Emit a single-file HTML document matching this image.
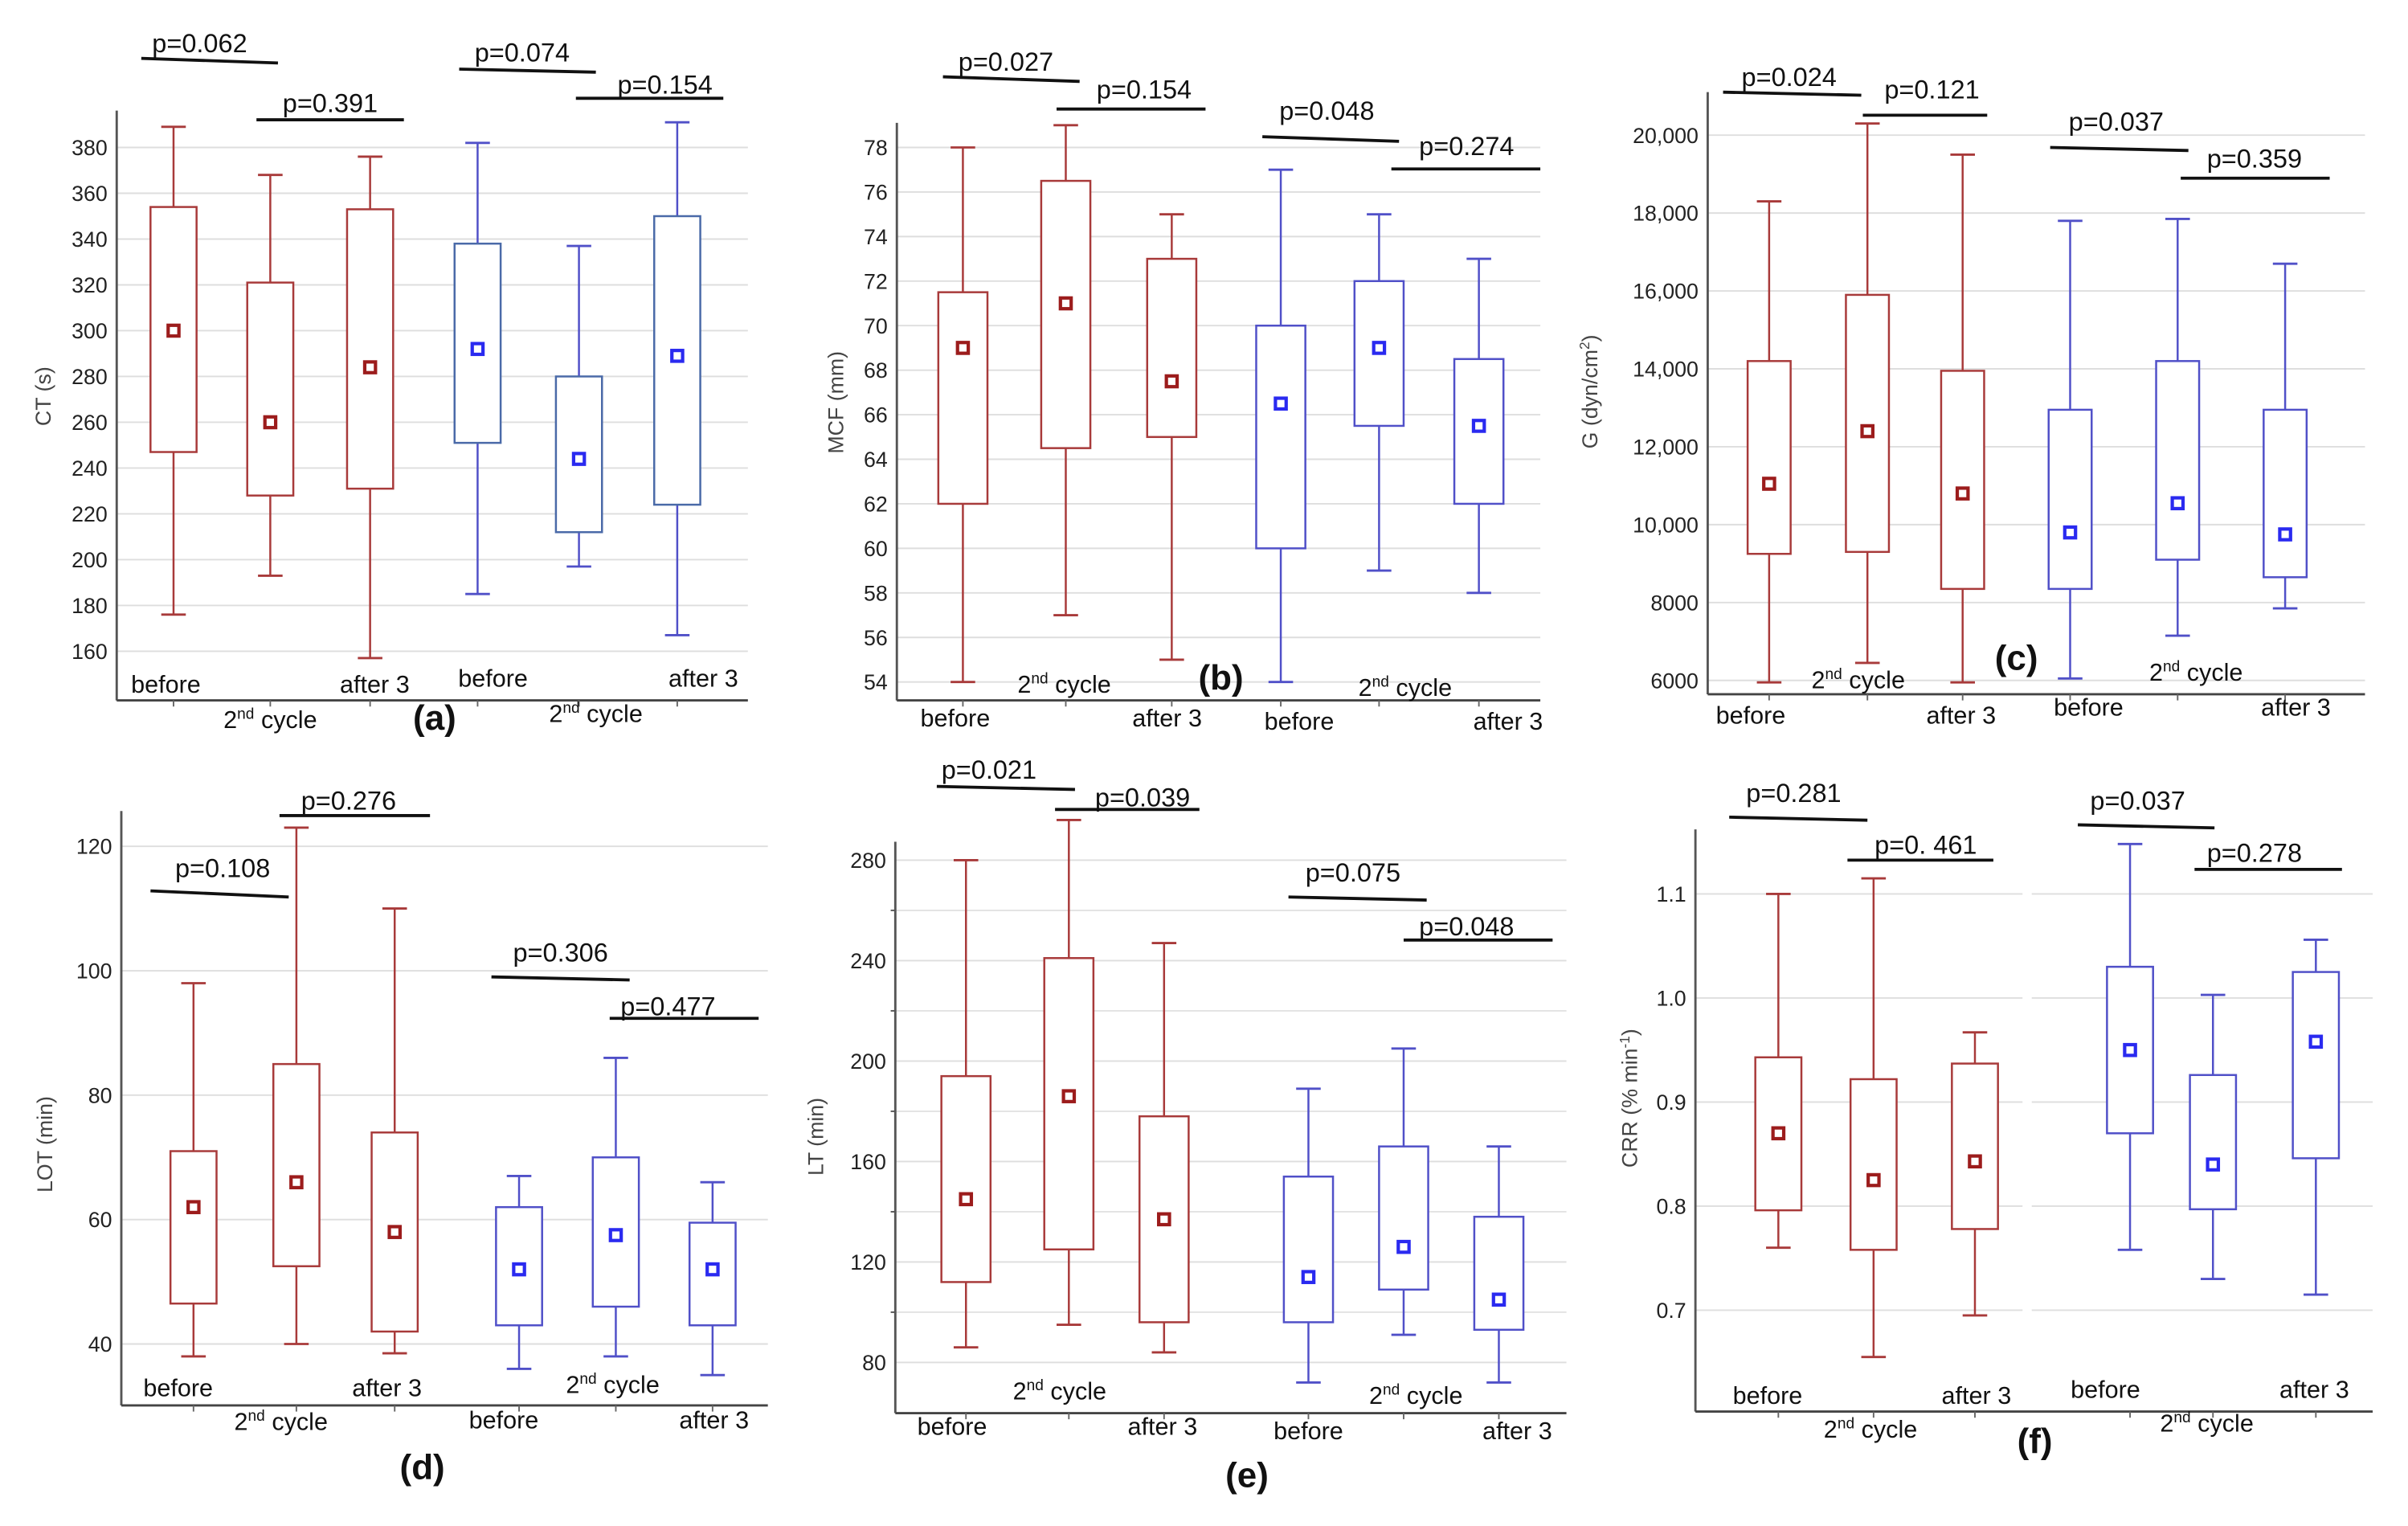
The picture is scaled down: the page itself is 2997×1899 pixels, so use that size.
<!DOCTYPE html>
<html><head><meta charset="utf-8">
<style>
html,body{margin:0;padding:0;background:#fff;}
svg{display:block;}
text{font-family:"Liberation Sans",sans-serif;}
</style></head>
<body>
<svg id="fig" width="2997" height="1899" viewBox="0 0 1568 993.5" preserveAspectRatio="none" xmlns="http://www.w3.org/2000/svg"></svg>
<script>
// ---- data (whisker high, Q3, mean, Q1, whisker low), order: red before, red 2nd, red after3, blue before, blue 2nd, blue after3
const aHi=[389,368,376,382,337,391], aQ3=[354,321,353,338,280,350], aMean=[300,260,284,292,244,289], aQ1=[247,228,231,251,212,224], aLo=[176,193,157,185,197,167];
const aTicks=[160,180,200,220,240,260,280,300,320,340,360,380];
const bHi=[78,79,75,77,75,73], bQ3=[71.5,76.5,73,70,72,68.5], bMean=[69,71,67.5,66.5,69,65.5], bQ1=[62,64.5,65,60,65.5,62], bLo=[54,57,55,54,59,58];
const bTicks=[54,56,58,60,62,64,66,68,70,72,74,76,78];
const cHi=[18300,20300,19500,17800,17850,16700], cQ3=[14200,15900,13950,12950,14200,12950], cMean=[11050,12400,10800,9800,10550,9750], cQ1=[9250,9300,8350,8350,9100,8650], cLo=[5950,6450,5950,6050,7150,7850];
const cTicks=[6000,8000,10000,12000,14000,16000,18000,20000];
const cTickLabels=["6000","8000","10,000","12,000","14,000","16,000","18,000","20,000"];
const dHi=[98,123,110,67,86,66], dQ3=[71,85,74,62,70,59.5], dMean=[62,66,58,52,57.5,52], dQ1=[46.5,52.5,42,43,46,43], dLo=[38,40,38.5,36,38,35];
const dTicks=[40,60,80,100,120];
const eHi=[280,296,247,189,205,166], eQ3=[194,241,178,154,166,138], eMean=[145,186,137,114,126,105], eQ1=[112,125,96,96,109,93], eLo=[86,95,84,72,91,72];
const eTicks=[80,120,160,200,240,280];
const eMinor=[100,140,180,220,260];
const fHi=[1.1,1.115,0.967,1.148,1.003,1.056], fQ3=[0.943,0.922,0.937,1.03,0.926,1.025], fMean=[0.87,0.825,0.843,0.95,0.84,0.958], fQ1=[0.796,0.758,0.778,0.87,0.797,0.846], fLo=[0.76,0.655,0.695,0.758,0.73,0.715];
const fTicks=[0.7,0.8,0.9,1.0,1.1];
const fTickLabels=["0.7","0.8","0.9","1.0","1.1"];

const NS="http://www.w3.org/2000/svg";
const svg=document.getElementById('fig');
function mk(tag,attrs,parent){const e=document.createElementNS(NS,tag);for(const k in attrs)e.setAttribute(k,attrs[k]);(parent||svg).appendChild(e);return e;}
const RED="#a83a3a", REDM="#9c1c1c", BLUE="#5050c8", BLUEM="#2a2af0";

function panel(cfg){
  const g=mk('g',{});
  
  
  const y=v=>cfg.y0+(v-cfg.v0)*(cfg.y1-cfg.y0)/(cfg.v1-cfg.v0);
  (cfg.minor||[]).forEach(t=>{
    const gl=mk('line',{x1:cfg.ax,x2:cfg.right,y1:y(t),y2:y(t),stroke:"#e2e2e2","stroke-width":1},g);
    
    
    mk('line',{x1:cfg.ax-3,x2:cfg.ax,y1:y(t),y2:y(t),stroke:"#555","stroke-width":1},g);
  });
  cfg.ticks.forEach((t,i)=>{
    const gl=mk('line',{x1:cfg.ax,x2:cfg.right,y1:y(t),y2:y(t),stroke:"#dedede","stroke-width":1},g);
    
    
    const tl=mk('text',{x:cfg.ax-6,y:y(t)+5,"text-anchor":"end","font-size":14,fill:"#222"},g);
    tl.textContent=cfg.tickLabels?cfg.tickLabels[i]:String(t);
    
    
  });
  if(cfg.gap){mk('rect',{x:cfg.gap-3,y:cfg.top,width:6,height:cfg.bottom-cfg.top-2,fill:"#fff"},g);}
  const ya=mk('line',{x1:cfg.ax,x2:cfg.ax,y1:cfg.top,y2:cfg.bottom,stroke:"#555","stroke-width":1.5},g);
  
  
  const xa=mk('line',{x1:cfg.ax,x2:cfg.right,y1:cfg.bottom,y2:cfg.bottom,stroke:"#444","stroke-width":1.5},g);
  
  
  const yt=mk('text',{x:cfg.ytx,y:cfg.yty,"text-anchor":"middle","font-size":14,fill:"#444",transform:`rotate(-90 ${cfg.ytx} ${cfg.yty})`},g);
  yt.innerHTML=cfg.ytitle;
  
  
  const w=cfg.bw;
  cfg.xs.forEach((x,i)=>{
    const col=i<3?RED:BLUE, mcol=i<3?REDM:BLUEM;
    const bg=mk('g',{},g);
    
    
    mk('line',{x1:x,x2:x,y1:y(cfg.hi[i]),y2:y(cfg.q3[i]),stroke:col,"stroke-width":1.3},bg);
    mk('line',{x1:x,x2:x,y1:y(cfg.q1[i]),y2:y(cfg.lo[i]),stroke:col,"stroke-width":1.3},bg);
    mk('line',{x1:x-8,x2:x+8,y1:y(cfg.hi[i]),y2:y(cfg.hi[i]),stroke:col,"stroke-width":1.5},bg);
    mk('line',{x1:x-8,x2:x+8,y1:y(cfg.lo[i]),y2:y(cfg.lo[i]),stroke:col,"stroke-width":1.5},bg);
    mk('rect',{x:x-w/2,y:y(cfg.q3[i]),width:w,height:y(cfg.q1[i])-y(cfg.q3[i]),fill:"#fff",stroke:(i>=3&&cfg.id==='a')?"#4a6aa8":col,"stroke-width":1.3},bg);
    const m=mk('rect',{x:x-3.5,y:y(cfg.mean[i])-3.5,width:7,height:7,fill:"#fff",stroke:mcol,"stroke-width":2.2},bg);
    
    
    mk('line',{x1:x,x2:x,y1:cfg.bottom,y2:cfg.bottom+4,stroke:"#666","stroke-width":1},bg);
  });
  cfg.cats.forEach(c=>{
    const t=mk('text',{x:c[0],y:c[1],"text-anchor":"middle","font-size":16,fill:"#111"},g);
    if(c[2]==='cyc') t.innerHTML='2<tspan font-size="10" dy="-6">nd</tspan><tspan dy="6"> cycle</tspan>';
    else t.textContent=c[2];
    
    
  });
  const pl=mk('text',{x:cfg.lab[0],y:cfg.lab[1],"text-anchor":"middle","font-size":23,"font-weight":"bold",fill:"#111"},g);
  pl.textContent='('+cfg.id+')';
  
  
  cfg.ps.forEach(p=>{
    const pt=mk('text',{x:p[1],y:p[2],"text-anchor":"middle","font-size":17,fill:"#111"},g);
    pt.textContent=p[0];
    
    
    const ln=mk('line',{x1:p[3],x2:p[4],y1:p[5],y2:p[6],stroke:"#111","stroke-width":2},g);
    
    
  });
}

panel({id:'a',ax:76,top:72,bottom:456,right:487,v0:380,y0:96,v1:160,y1:424,ticks:aTicks,
  hi:aHi,q3:aQ3,mean:aMean,q1:aQ1,lo:aLo,xs:[113,176,241,311,377,441],bw:30,
  ytitle:'CT (s)',ytx:33,yty:258,
  cats:[[108,451,'before'],[244,451,'after 3'],[176,474,'cyc'],[321,447,'before'],[458,447,'after 3'],[388,470,'cyc']],
  lab:[283,475],
  ps:[['p=0.062',130,34,92,181,38,41],['p=0.391',215,73,167,263,78,78],['p=0.074',340,40,299,388,45,47],['p=0.154',433,61,375,471,64,64]]});

panel({id:'b',ax:584,top:80,bottom:456,right:1003,v0:78,y0:96,v1:54,y1:444,ticks:bTicks,
  hi:bHi,q3:bQ3,mean:bMean,q1:bQ1,lo:bLo,xs:[627,694,763,834,898,963],bw:32,
  ytitle:'MCF (mm)',ytx:549,yty:262,
  cats:[[622,473,'before'],[693,451,'cyc'],[760,473,'after 3'],[846,475,'before'],[915,453,'cyc'],[982,475,'after 3']],
  lab:[795,449],
  ps:[['p=0.027',655,46,614,703,50,53],['p=0.154',745,64,688,785,71,71],['p=0.048',864,78,822,911,89,92],['p=0.274',955,101,906,1003,110,110]]});

panel({id:'c',ax:1112,top:60,bottom:452,right:1540,v0:20000,y0:88,v1:6000,y1:443,ticks:cTicks,tickLabels:cTickLabels,
  hi:cHi,q3:cQ3,mean:cMean,q1:cQ1,lo:cLo,xs:[1152,1216,1278,1348,1418,1488],bw:28,
  ytitle:'G (dyn/cm<tspan font-size="9" dy="-5">2</tspan><tspan dy="5">)</tspan>',ytx:1040,yty:255,
  cats:[[1140,471,'before'],[1210,448,'cyc'],[1277,471,'after 3'],[1360,466,'before'],[1430,443,'cyc'],[1495,466,'after 3']],
  lab:[1313,436],
  ps:[['p=0.024',1165,56,1122,1212,60,62],['p=0.121',1258,64,1213,1294,75,75],['p=0.037',1378,85,1335,1425,96,98],['p=0.359',1468,109,1420,1517,116,116]]});

panel({id:'d',ax:79,top:528,bottom:915,right:500,v0:120,y0:551,v1:40,y1:875,ticks:dTicks,
  hi:dHi,q3:dQ3,mean:dMean,q1:dQ1,lo:dLo,xs:[126,193,257,338,401,464],bw:30,
  ytitle:'LOT (min)',ytx:34,yty:745,
  cats:[[116,909,'before'],[183,931,'cyc'],[252,909,'after 3'],[328,930,'before'],[399,907,'cyc'],[465,930,'after 3']],
  lab:[275,963],
  ps:[['p=0.108',145,571,98,188,580,584],['p=0.276',227,527,182,280,531,531],['p=0.306',365,626,320,410,636,638],['p=0.477',435,661,397,494,663,663]]});

panel({id:'e',ax:583,top:548,bottom:920,right:1020,v0:280,y0:560,v1:80,y1:887,ticks:eTicks,minor:eMinor,
  hi:eHi,q3:eQ3,mean:eMean,q1:eQ1,lo:eLo,xs:[629,696,758,852,914,976],bw:32,
  ytitle:'LT (min)',ytx:536,yty:740,
  cats:[[620,934,'before'],[690,911,'cyc'],[757,934,'after 3'],[852,937,'before'],[922,914,'cyc'],[988,937,'after 3']],
  lab:[812,968],
  ps:[['p=0.021',644,507,610,700,512,514],['p=0.039',744,525,687,781,527,527],['p=0.075',881,574,839,929,584,586],['p=0.048',955,609,914,1011,612,612]]});

panel({id:'f',ax:1104,top:540,bottom:919,right:1545,v0:1.1,y0:582,v1:0.7,y1:853,ticks:fTicks,tickLabels:fTickLabels,gap:1320,
  hi:fHi,q3:fQ3,mean:fMean,q1:fQ1,lo:fLo,xs:[1158,1220,1286,1387,1441,1508],bw:30,
  ytitle:'CRR (% min<tspan font-size="9" dy="-5">-1</tspan><tspan dy="5">)</tspan>',ytx:1066,yty:715,
  cats:[[1151,914,'before'],[1218,936,'cyc'],[1287,914,'after 3'],[1371,910,'before'],[1437,932,'cyc'],[1507,910,'after 3']],
  lab:[1325,946],
  ps:[['p=0.281',1168,522,1126,1216,532,534],['p=0. 461',1254,556,1203,1298,560,560],['p=0.037',1392,527,1353,1442,537,539],['p=0.278',1468,561,1429,1525,566,566]]});
</script>
</body></html>
